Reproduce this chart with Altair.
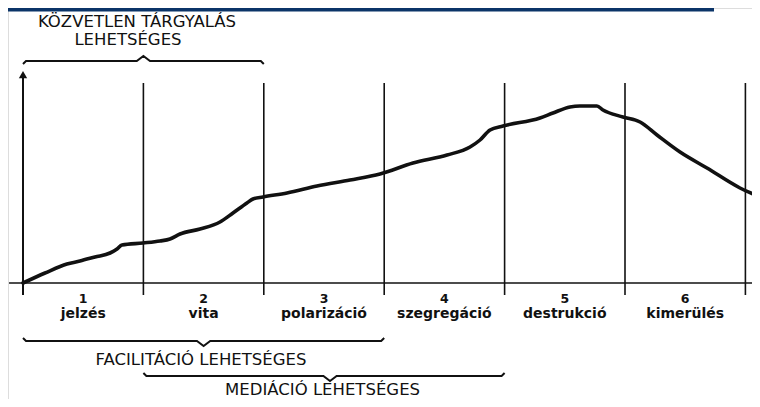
import altair as alt
import pandas as pd

# ---------------- data ----------------
# conflict escalation curve: time in stage units (0..6), intensity (arbitrary units)
curve_t = [0.0, 0.183, 0.365, 0.473, 0.598, 0.723, 0.781, 0.822, 0.997, 1.138, 1.221,
           1.304, 1.470, 1.636, 1.744, 1.860, 1.910, 1.993, 2.193, 2.442, 2.716, 2.965,
           3.239, 3.522, 3.713, 3.796, 3.879, 3.987, 4.294, 4.402, 4.543, 4.626, 4.767,
           4.817, 4.983, 5.125, 5.266, 5.457, 5.681, 5.955, 6.121]
curve_v = [0, 10, 19, 22, 26, 30, 34, 38, 40, 42, 44,
           49, 54, 61, 70, 80, 84, 86, 90, 97, 103, 109,
           120, 128, 136, 143, 153, 157, 165, 170, 176, 177, 177,
           173, 166, 161, 148, 131, 115, 95, 86]

stage_bounds = [0, 1, 2, 3, 4, 5, 6]
stage_nums = ["1", "2", "3", "4", "5", "6"]
stage_names = ["jelzés", "vita", "polarizáció", "szegregáció", "destrukció", "kimerülés"]

brace_start = [0, 0, 1]
brace_end = [2, 3, 4]
brace_tip = [1.0, 1.5, 2.55]
brace_lines = [["KÖZVETLEN TÁRGYALÁS", "LEHETSÉGES"],
               ["FACILITÁCIÓ LEHETSÉGES"],
               ["MEDIÁCIÓ LEHETSÉGES"]]

# ---------------- layout ----------------
W, H = 744, 391
PX = 120.4                      # pixels per stage
X_DOM = [-15 / PX, (W - 15) / PX]
Y_DOM = [-116, 275]
FONT = "DejaVu Sans"
INK = "#111111"

brace_level = [222, -58, -93]
brace_dir = [-1, 1, 1]          # +1: hooks up / tip down
label_pos = [[(0.947, 256), (0.872, 238)], [(1.478, -82)], [(2.488, -112)]]

xs = alt.Scale(domain=X_DOM, nice=False, zero=False)
ys = alt.Scale(domain=Y_DOM, nice=False, zero=False)
X = lambda f: alt.X(f, type="quantitative", scale=xs, axis=None)
Y = lambda f: alt.Y(f, type="quantitative", scale=ys, axis=None)

# header bar (slide decoration)
bar = alt.Chart(pd.DataFrame({"a": [0]})).mark_rect(color="#0b3468").encode(
    x=alt.value(0), x2=alt.value(706), y=alt.value(0), y2=alt.value(3.5))

# stage boundary lines
vl = pd.DataFrame({"s": stage_bounds[1:], "y0": [-12] * 6, "y1": [200] * 6})
vlines = alt.Chart(vl).mark_rule(color=INK, strokeWidth=1.6, clip=True).encode(
    x=X("s"), y=Y("y0"), y2="y1")

# y axis with arrow
yaxis = alt.Chart(pd.DataFrame({"s": [0], "y0": [-12], "y1": [208]})).mark_rule(
    color=INK, strokeWidth=2).encode(x=X("s"), y=Y("y0"), y2="y1")
arrow = alt.Chart(pd.DataFrame({"s": [0], "v": [208.4]})).mark_point(
    shape="triangle-up", filled=True, size=70, color=INK, opacity=1).encode(
    x=X("s"), y=Y("v"))

# x axis
xaxis = alt.Chart(pd.DataFrame({"s0": [-0.116], "s1": [6.3], "v": [0]})).mark_rule(
    color=INK, strokeWidth=1.6, clip=True).encode(x=X("s0"), x2="s1", y=Y("v"))

# curve
cdf = pd.DataFrame({"t": curve_t, "v": curve_v, "o": range(len(curve_t))})
curve = alt.Chart(cdf).mark_line(color=INK, strokeWidth=3.6, interpolate="monotone",
                                 clip=True, strokeCap="round").encode(
    x=X("t"), y=Y("v"), order="o:Q")

# stage labels
mids = [b + 0.5 for b in stage_bounds[:-1]]
nums = alt.Chart(pd.DataFrame({"s": mids, "txt": stage_nums, "v": [-20] * 6})).mark_text(
    font=FONT, fontSize=12.5, fontWeight="bold", color=INK, baseline="alphabetic").encode(
    x=X("s"), y=Y("v"), text="txt")
names = alt.Chart(pd.DataFrame({"s": mids, "txt": stage_names, "v": [-35] * 6})).mark_text(
    font=FONT, fontSize=14, fontWeight="bold", color=INK, baseline="alphabetic").encode(
    x=X("s"), y=Y("v"), text="txt")

# braces
rows = []
for i, (a, b, tip) in enumerate(zip(brace_start, brace_end, brace_tip)):
    L, d = brace_level[i], brace_dir[i]
    pts = [(a, L + 3 * d), (a + 0.025, L), (tip - 0.055, L), (tip, L - 5 * d),
           (tip + 0.055, L), (b - 0.025, L), (b, L + 3 * d)]
    for k, (px, pv) in enumerate(pts):
        rows.append({"id": i, "k": k, "s": px, "v": pv})
braces = alt.Chart(pd.DataFrame(rows)).mark_line(color=INK, strokeWidth=2, clip=True).encode(
    x=X("s"), y=Y("v"), detail="id:N", order="k:Q")

trows = []
for i, lines in enumerate(brace_lines):
    for j, line in enumerate(lines):
        sx, sv = label_pos[i][j]
        trows.append({"txt": line, "s": sx, "v": sv})
btext = alt.Chart(pd.DataFrame(trows)).mark_text(
    font=FONT, fontSize=16.5, color=INK, baseline="alphabetic").encode(
    x=X("s"), y=Y("v"), text="txt")

chart = alt.layer(bar, vlines, yaxis, arrow, xaxis, curve, nums, names, braces, btext).properties(
    width=W, height=H, padding=0, autosize=alt.AutoSizeParams(type="none")
).configure_view(stroke=None).configure(background="white")

chart.save("out.html", embed_options={"renderer": "svg", "actions": False})
